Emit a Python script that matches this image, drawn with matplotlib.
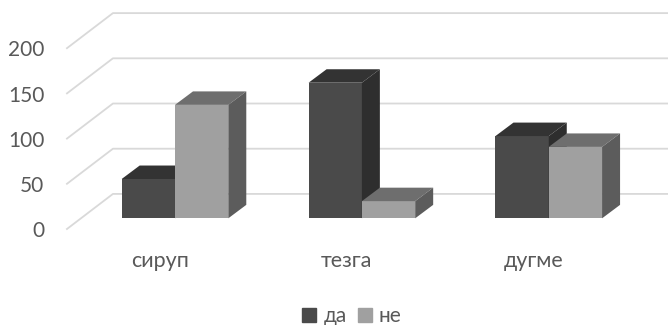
import matplotlib
matplotlib.use("Agg")
import matplotlib.pyplot as plt
from matplotlib.patches import Patch, Polygon

plt.rcParams["font.family"] = ["Lato", "Open Sans", "DejaVu Sans"]

categories = ["сируп", "тезга", "дугме"]
da_values = [43.5, 150, 91]
ne_values = [125.5, 19, 79]
y_ticks = [0, 50, 100, 150, 200]
series_names = ["да", "не"]

TEXT = "#595959"
GRID = "#d9d9d9"
DA = {"front": "#4a4a4a", "top": "#333333", "side": "#2e2e2e"}
NE = {"front": "#a0a0a0", "top": "#6e6e6e", "side": "#5c5c5c"}

# one unit on the x axis is a category, one unit on the y axis is a value
BAR_W = 0.2852
DEPTH_X = 0.0963
DEPTH_Y = 14.9
WALL_X = 0.246
WALL_Y = 38.8
LEFT = -0.578
RIGHT = 2.638


def draw_box(ax, x0, value, colors):
    x1 = x0 + BAR_W
    ax.bar(x0, value, BAR_W, align="edge", color=colors["front"], zorder=3)
    top = [(x0, value), (x1, value), (x1 + DEPTH_X, value + DEPTH_Y), (x0 + DEPTH_X, value + DEPTH_Y)]
    side = [(x1, 0), (x1 + DEPTH_X, DEPTH_Y), (x1 + DEPTH_X, value + DEPTH_Y), (x1, value)]
    ax.add_patch(Polygon(top, closed=True, color=colors["top"], lw=0, zorder=3))
    ax.add_patch(Polygon(side, closed=True, color=colors["side"], lw=0, zorder=3))


fig = plt.figure(figsize=(6.68, 3.25), dpi=100)
ax = fig.add_axes([0, 0, 1, 1])
ax.set_xlim(-0.9363, RIGHT)
ax.set_ylim(-118, 241.5)
ax.axis("off")

# floor and wall lines
for tick in y_ticks:
    front_y = tick - 11.8
    ax.plot(
        [LEFT, LEFT + WALL_X, RIGHT],
        [front_y, front_y + WALL_Y, front_y + WALL_Y],
        color=GRID,
        lw=1.3,
        zorder=1,
    )
    ax.text(LEFT - 0.12, front_y - 2.5, str(tick), ha="right", va="center", fontsize=15, color=TEXT)

for i, name in enumerate(categories):
    draw_box(ax, i - BAR_W, da_values[i], DA)
    draw_box(ax, i, ne_values[i], NE)
    ax.text(i - 0.08, -47, name, ha="center", va="center", fontsize=15.5, color=TEXT)

handles = [Patch(color=DA["front"], label=series_names[0]), Patch(color=NE["front"], label=series_names[1])]
fig.legend(
    handles=handles,
    loc="center",
    bbox_to_anchor=(0.527, 0.027),
    ncol=2,
    frameon=False,
    fontsize=15,
    labelcolor=TEXT,
    handlelength=0.65,
    handleheight=0.65,
    handletextpad=0.35,
    columnspacing=0.55,
    borderpad=0,
)

fig.savefig("out.png", dpi=100)
